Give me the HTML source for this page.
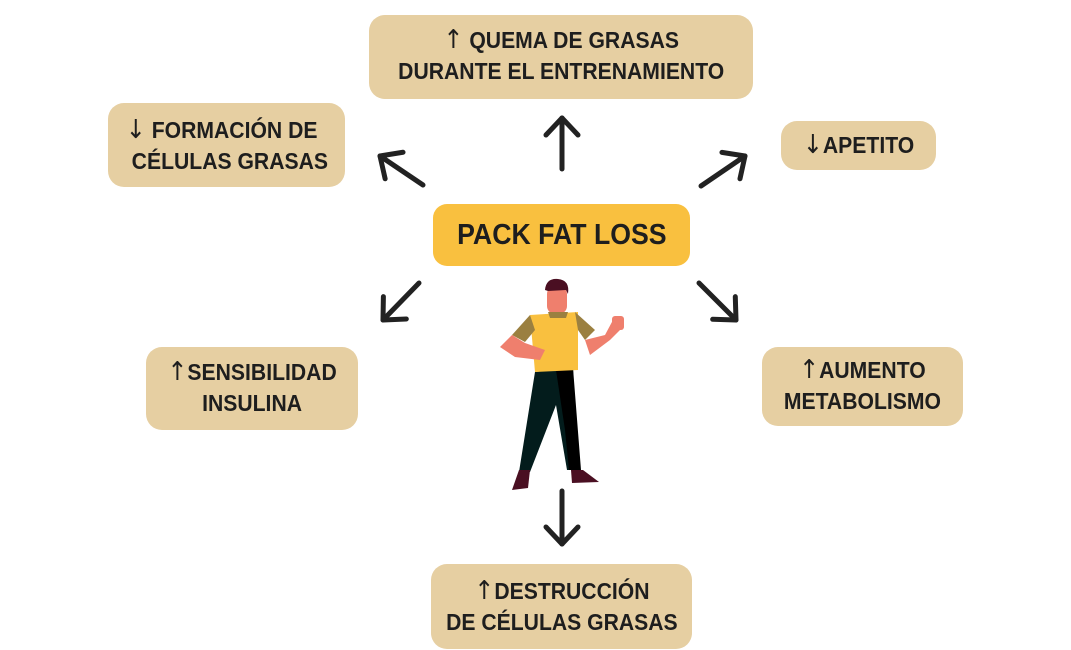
<!DOCTYPE html>
<html><head><meta charset="utf-8"><style>
body{margin:0;width:1071px;height:650px;background:#fff;overflow:hidden;position:relative;font-family:"Liberation Sans",sans-serif;font-weight:bold;color:#1e1e1e}
.b{position:absolute;background:#e6cfa2;border-radius:16px;font-size:23px;line-height:31px;text-align:center;box-sizing:border-box;white-space:nowrap}
.b>span.t{display:inline-block;transform:scaleX(.92);transform-origin:center}
.ar{font-family:"DejaVu Sans",sans-serif;font-weight:normal;font-size:26px}
</style></head><body>
<div class="b" style="left:369px;top:15px;width:384px;height:84px;padding-top:10px"><span class="t"><span class="ar">↑</span> QUEMA DE GRASAS<br>DURANTE EL ENTRENAMIENTO</span></div>
<div class="b" style="left:108px;top:103px;width:237px;height:84px;padding-top:12px"><span class="t" style="text-align:left"><span class="ar">↓</span> FORMACIÓN DE<br>&nbsp;CÉLULAS GRASAS</span></div>
<div class="b" style="left:781px;top:121px;width:155px;height:49px;padding-top:9px"><span class="t"><span class="ar">↓</span>APETITO</span></div>
<div class="b" style="left:433px;top:204px;width:257px;height:62px;background:#f9c03f;font-size:29px;line-height:62px;border-radius:14px"><span class="t">PACK FAT LOSS</span></div>
<div class="b" style="left:146px;top:347px;width:212px;height:83px;padding-top:10px"><span class="t"><span class="ar">↑</span>SENSIBILIDAD<br>INSULINA</span></div>
<div class="b" style="left:762px;top:347px;width:201px;height:79px;padding-top:8px"><span class="t"><span class="ar">↑</span>AUMENTO<br>METABOLISMO</span></div>
<div class="b" style="left:431px;top:564px;width:261px;height:85px;padding-top:12px"><span class="t"><span class="ar">↑</span>DESTRUCCIÓN<br>DE CÉLULAS GRASAS</span></div>
<svg width="1071" height="650" style="position:absolute;left:0;top:0" fill="none" stroke="#222" stroke-width="5" stroke-linecap="round" stroke-linejoin="round">
<defs><marker id="m" markerWidth="6" markerHeight="8" refX="5" refY="4" orient="auto" markerUnits="userSpaceOnUse" viewBox="0 0 6 8" overflow="visible"><path d="M-12,-12 L5,4 L-12,20" stroke="#222" stroke-width="5" fill="none"/></marker></defs>
<g marker-end="url(#m)">
<line x1="562" y1="169" x2="562" y2="118"/>
<line x1="423" y1="185" x2="380" y2="156"/>
<line x1="701" y1="186" x2="745" y2="156"/>
<line x1="419" y1="283" x2="383" y2="320"/>
<line x1="699" y1="283" x2="736" y2="320"/>
<line x1="562" y1="491" x2="562" y2="544"/>
</g>
<g stroke="none">
<path d="M535 372 L573 368 L578 470 L567 470 L556 405 L530 472 L519 472 Z" fill="#031c1c"/>
<path d="M556 370 L573 368 L581 470 L569 470 L565 430 Z" fill="#000"/>
<path d="M519 470 L530 470 L528 488 L512 490 Z" fill="#4a0f22"/>
<path d="M571 470 L583 470 L599 482 L572 483 Z" fill="#4a0f22"/>
<path d="M530 315 L578 312 L578 370 L535 372 Z" fill="#f9c03f"/>
<path d="M530 315 L512 335 L525 342 L535 330 Z" fill="#9b8040"/>
<path d="M575 312 L595 330 L585 340 L578 330 Z" fill="#9b8040"/>
<path d="M512 335 L500 347 L515 357 L540 360 L545 350 L525 343 Z" fill="#ef7f6d"/>
<path d="M585 340 L590 355 L610 340 L620 330 L613 320 L605 335 Z" fill="#ef7f6d"/>
<rect x="612" y="316" width="12" height="14" rx="3" fill="#ef7f6d"/>
<rect x="547" y="286" width="20" height="28" rx="8" fill="#ef7f6d"/>
<path d="M545 290 Q546 278 558 279 Q570 280 568 294 L566 290 L548 291 Z" fill="#4a0f22"/>
<path d="M548 312 L568 312 L566 318 L550 318 Z" fill="#9b8040"/>
</g>
</svg>
</body></html>
